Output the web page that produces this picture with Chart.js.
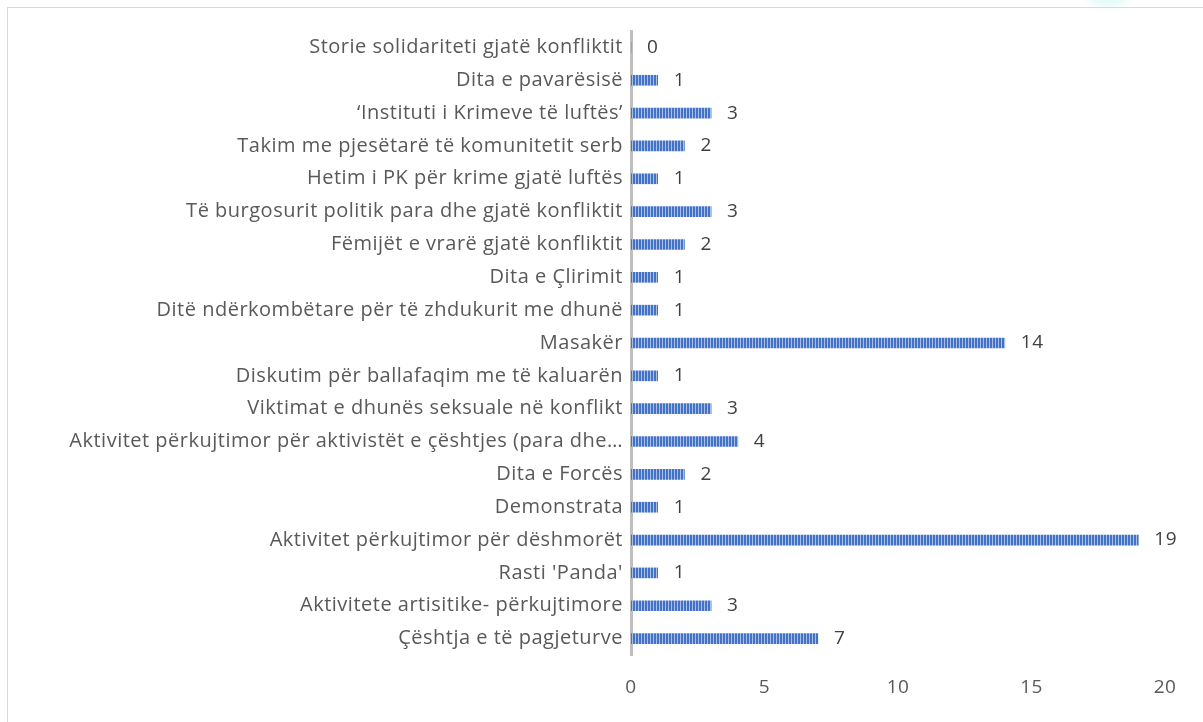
<!DOCTYPE html>
<html>
<head>
<meta charset="utf-8">
<script src="https://cdn.jsdelivr.net/npm/chart.js@4/dist/chart.umd.min.js"></script>
<style>
  body { margin: 0; background: #fff; }
  #wrap { position: relative; width: 1203px; height: 722px; overflow: hidden; }
  #frame { position: absolute; left: 7px; top: 7px; width: 1300px; height: 800px;
           border-top: 1px solid #d9d9d9; border-left: 1px solid #d9d9d9; }
  #mancha { position: absolute; left: 1088px; top: -14px; width: 40px; height: 20px;
            border-radius: 50%; background: rgba(170, 240, 230, 0.35); filter: blur(4px); }
  canvas { position: absolute; left: 0; top: 0; }
</style>
</head>
<body>
<div id="wrap">
  <div id="frame"></div>
  <div id="mancha"></div>
  <canvas id="grafico" width="1203" height="722"></canvas>
</div>
<script>
// Dados do gráfico (de cima para baixo)
const categorias = [
    "Storie solidariteti gjatë konfliktit",
    "Dita e pavarësisë",
    "‘Instituti i Krimeve të luftës’",
    "Takim me pjesëtarë të komunitetit serb",
    "Hetim i PK për krime gjatë luftës",
    "Të burgosurit politik para dhe gjatë konfliktit",
    "Fëmijët e vrarë gjatë konfliktit",
    "Dita e Çlirimit",
    "Ditë ndërkombëtare për të zhdukurit me dhunë",
    "Masakër",
    "Diskutim për ballafaqim me të kaluarën",
    "Viktimat e dhunës seksuale në konflikt",
    "Aktivitet përkujtimor për aktivistët e çështjes (para dhe…",
    "Dita e Forcës",
    "Demonstrata",
    "Aktivitet përkujtimor për dëshmorët",
    "Rasti 'Panda'",
    "Aktivitete artisitike- përkujtimore",
    "Çështja e të pagjeturve"
];
const valores = [0, 1, 3, 2, 1, 3, 2, 1, 1, 14, 1, 3, 4, 2, 1, 19, 1, 3, 7];
const ticksX = [0, 5, 10, 15, 20];

const fonte = "'Open Sans', sans-serif";

// Padrão listrado das barras
function criarPadrao() {
    let c = document.createElement("canvas");
    c.width = 3;
    c.height = 4;
    let p = c.getContext("2d");
    p.fillStyle = "#4472c4";
    p.fillRect(0, 0, 2, 4);
    p.fillStyle = "#a9bfe6";
    p.fillRect(2, 0, 1, 4);
    return p.createPattern(c, "repeat");
}

// Espaçamento das letras (texto mais largo, como no original)
const espacamento = {
    id: "espacamento",
    beforeUpdate(chart) { chart.ctx.letterSpacing = "0.5px"; },
    beforeDraw(chart) { chart.ctx.letterSpacing = "0.5px"; }
};

// Rótulos de valor ao lado das barras
const rotulosValor = {
    id: "rotulosValor",
    afterDatasetsDraw(chart) {
        let ctx = chart.ctx;
        let meta = chart.getDatasetMeta(0);
        let escalaX = chart.scales.x;
        ctx.save();
        ctx.font = "19px " + fonte;
        ctx.fillStyle = "#404040";
        ctx.textAlign = "left";
        ctx.textBaseline = "middle";
        meta.data.forEach((barra, i) => {
            let x = escalaX.getPixelForValue(valores[i]) + 16;
            ctx.fillText(String(valores[i]), x, barra.y);
        });
        ctx.restore();
    }
};

let ctx = document.getElementById("grafico").getContext("2d");
new Chart(ctx, {
    type: "bar",
    data: {
        labels: categorias,
        datasets: [{
            data: valores,
            backgroundColor: criarPadrao(),
            barThickness: 10,
            borderWidth: 0
        }]
    },
    options: {
        indexAxis: "y",
        responsive: false,
        animation: false,
        layout: { padding: { top: 31, right: 38, bottom: 0, left: 0 } },
        plugins: {
            legend: { display: false },
            tooltip: { enabled: false }
        },
        scales: {
            x: {
                min: 0,
                max: 20,
                afterBuildTicks(scale) {
                    scale.ticks = ticksX.map(v => ({ value: v }));
                },
                afterFit(scale) { scale.height = 67; },
                grid: { display: false, drawTicks: false },
                border: { display: false },
                ticks: {
                    padding: 21,
                    color: "#595959",
                    font: { size: 19, family: fonte }
                }
            },
            y: {
                afterFit(scale) { scale.width = 631; },
                grid: { drawOnChartArea: false, drawTicks: false },
                border: { display: true, color: "#bfbfbf", width: 3 },
                ticks: {
                    padding: 8,
                    autoSkip: false,
                    color: "#595959",
                    font: { size: 20, family: fonte }
                }
            }
        }
    },
    plugins: [espacamento, rotulosValor]
});
</script>
</body>
</html>
